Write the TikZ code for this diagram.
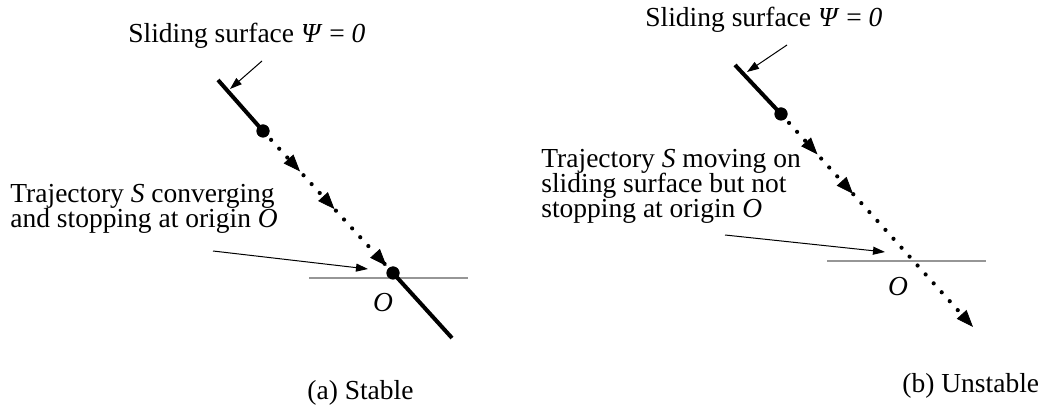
\documentclass[tikz,border=0pt]{standalone}
\usepackage{fontspec}
\setmainfont{Liberation Serif}
\usetikzlibrary{arrows.meta,decorations.markings}
\definecolor{axisgray}{RGB}{150,150,150}
\tikzset{
  lbl/.style={font=\fontsize{13.75}{12.5}\selectfont, inner sep=0pt, align=left, anchor=base west},
  pointer/.style={line width=0.5pt, -{Triangle[length=6pt,width=4pt]}},
  surface/.style={line width=2pt},
  bigdot/.style={circle, fill=black, inner sep=0pt, minimum size=6.5pt},
  axisline/.style={axisgray, line width=0.6pt},
  traj/.style={line width=2.1pt, line cap=round, dash pattern=on 0pt off 6pt},
}
\newcommand{\ttip}{\arrow{Triangle[length=8.5pt,width=6.5pt,line width=0.4pt]}}
\begin{document}
\setlength{\lineskiplimit}{-20pt}
\begin{tikzpicture}[x=0.5pt,y=-0.5pt]
\useasboundingbox (0,0) rectangle (1046,411);
% ---------- (a) Stable ----------
\node[lbl] (ltitle) at (128,43) {Sliding surface \textit{Ψ} = \textit{0}};
\coordinate (lptrS) at (262,61);
\coordinate (lptrE) at (230,89);
\draw[pointer] (lptrS) -- (lptrE);
\coordinate (lsurfA) at (218,80);
\node[bigdot] (ldotA) at (263,131) {};
\node[bigdot] (ldotO) at (393,273) {};
\coordinate (lsurfB) at (452,338);
\coordinate (lhA) at (309,278);
\coordinate (lhB) at (468,278);
\draw[axisline] (lhA) -- (lhB);
\draw[surface] (lsurfA) -- (ldotA.center);
\draw[surface] (ldotO.center) -- (lsurfB);
\draw[traj, decoration={markings,
   mark=at position 0.285 with {\ttip},
   mark=at position 0.55 with {\ttip},
   mark=at position 0.95 with {\ttip}}, postaction={decorate}]
   (ldotA.center) -- (ldotO.center);
\node[bigdot] at (ldotA) {};
\node[bigdot] at (ldotO) {};
\node[lbl, anchor=center] (lO) at (383,303) {\textit{O}};
\node[lbl] (ltext) at (10,228) {Trajectory \textit{S} converging\\and stopping at origin \textit{O}};
\coordinate (lptr2S) at (213,251);
\coordinate (lptr2E) at (368,269);
\draw[pointer] (lptr2S) -- (lptr2E);
\node[lbl] (lcap) at (307,400) {(a) Stable};
% ---------- (b) Unstable ----------
\node[lbl] (rtitle) at (645,27) {Sliding surface \textit{Ψ} = \textit{0}};
\coordinate (rptrS) at (787,45);
\coordinate (rptrE) at (747,72);
\draw[pointer] (rptrS) -- (rptrE);
\coordinate (rsurfA) at (735,65);
\node[bigdot] (rdotA) at (781,114) {};
\coordinate (rend) at (973,327);
\coordinate (rhA) at (827,261);
\coordinate (rhB) at (986,261);
\draw[axisline] (rhA) -- (rhB);
\draw[surface] (rsurfA) -- (rdotA.center);
\draw[traj, decoration={markings,
   mark=at position 0.19 with {\ttip},
   mark=at position 0.375 with {\ttip},
   mark=at position 1 with {\ttip}}, postaction={decorate}]
   (rdotA.center) -- (rend);
\node[bigdot] at (rdotA) {};
\node[lbl, anchor=center] (rO) at (898,287) {\textit{O}};
\node[lbl] (rtext) at (541,218) {Trajectory \textit{S} moving on\\sliding surface but not\\stopping at origin \textit{O}};
\coordinate (rptr2S) at (725,235);
\coordinate (rptr2E) at (885,252);
\draw[pointer] (rptr2S) -- (rptr2E);
\node[lbl] (rcap) at (902,393) {(b) Unstable};
\end{tikzpicture}
\end{document}
